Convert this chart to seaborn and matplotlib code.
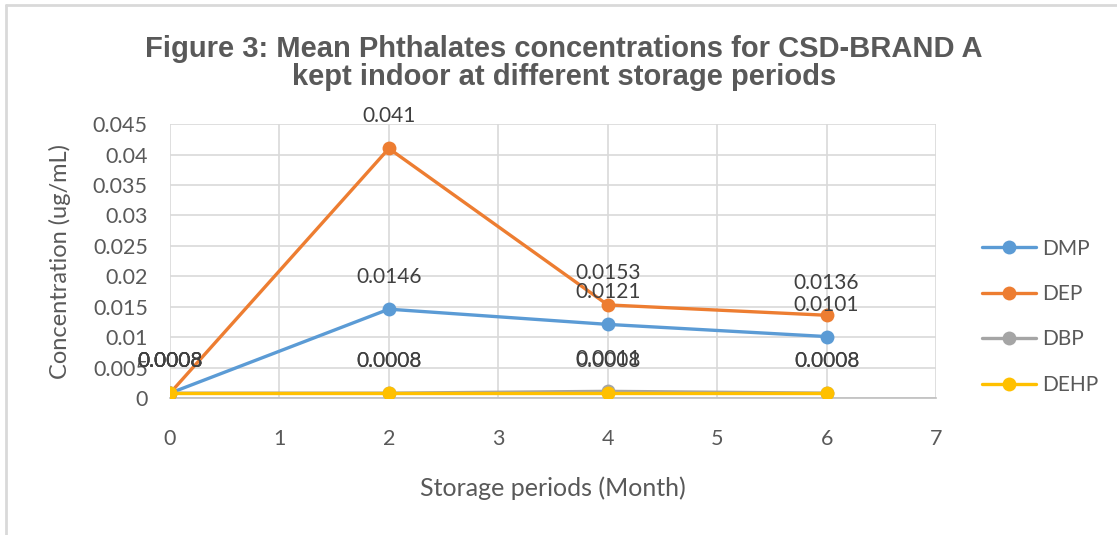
import numpy as np
import pandas as pd
import seaborn as sns
import matplotlib
import matplotlib.pyplot as plt
from matplotlib.lines import Line2D

matplotlib.use('Agg')

months = [0, 2, 4, 6]
dmp = [0.0008, 0.0146, 0.0121, 0.0101]
dep = [0.0008, 0.041, 0.0153, 0.0136]
dbp = [0.0008, 0.0008, 0.0011, 0.0008]
dehp = [0.0008, 0.0008, 0.0008, 0.0008]
series_names = ['DMP', 'DEP', 'DBP', 'DEHP']
colors = ['#5B9BD5', '#ED7D31', '#A5A5A5', '#FFC000']

df = pd.DataFrame({'Month': months * 4,
                   'Series': np.repeat(series_names, len(months)),
                   'Value': dmp + dep + dbp + dehp})

sns.set_style('white')
plt.rcParams['font.family'] = ['Lato', 'DejaVu Sans']

fig = plt.figure(figsize=(11.17, 5.35), dpi=100)
ax = fig.add_axes([0.1522, 0.256, 0.838 - 0.1522, 0.768 - 0.256])

palette = dict(zip(series_names, colors))
sns.lineplot(data=df, x='Month', y='Value', hue='Series', palette=palette,
             marker='o', markersize=10, markeredgewidth=0, linewidth=2.4,
             legend=False, ax=ax, zorder=3)

# data labels above each point
for name, vals in zip(series_names, [dmp, dep, dbp, dehp]):
    for m, v in zip(months, vals):
        ax.annotate(f'{v:g}', (m, v), xytext=(0, 32), textcoords='offset pixels',
                    ha='center', va='center', fontsize=15, color='#404040', zorder=5)

ax.set_xlim(0, 7)
ax.set_ylim(0, 0.045)
ax.set_xticks(range(0, 8))
ax.set_yticks(np.arange(0, 0.0451, 0.005))
ax.set_yticklabels(['0', '0.005', '0.01', '0.015', '0.02', '0.025', '0.03', '0.035', '0.04', '0.045'])
ax.grid(True, color='#D9D9D9', linewidth=1.2, zorder=0)
ax.set_axisbelow(True)
for s in ['top', 'right', 'left']:
    ax.spines[s].set_visible(False)
ax.spines['bottom'].set_color('#BFBFBF')
ax.spines['bottom'].set_linewidth(1.2)
ax.tick_params(axis='both', length=0, labelsize=15.5, labelcolor='#595959')
ax.tick_params(axis='x', pad=22)
ax.tick_params(axis='y', pad=16)

ax.set_xlabel('Storage periods (Month)', fontsize=18, color='#595959', labelpad=20)
ax.set_ylabel('Concentration (ug/mL)', fontsize=17, color='#595959', labelpad=16)

fig.text(0.505, 0.882, 'Figure 3: Mean Phthalates concentrations for CSD-BRAND A\nkept indoor at different storage periods',
         ha='center', va='center', fontsize=21, fontweight='bold', color='#595959',
         family='Liberation Sans', linespacing=1.0)

handles = [Line2D([], [], color=c, marker='o', markersize=10, markeredgewidth=0, linewidth=2.4)
           for c in colors]
leg = fig.legend(handles, series_names, loc='center left', bbox_to_anchor=(0.862, 0.408),
                 frameon=False, fontsize=15, labelspacing=1.22, handlelength=2.6,
                 handletextpad=0.3)
for t in leg.get_texts():
    t.set_color('#595959')

# chart border (top and left visible)
fig.add_artist(Line2D([0.0055, 1.0], [0.991, 0.991], transform=fig.transFigure, color='#D9D9D9', linewidth=2))
fig.add_artist(Line2D([0.0055, 0.0055], [0.0, 0.991], transform=fig.transFigure, color='#D9D9D9', linewidth=2))

fig.savefig('out.png', dpi=100)
